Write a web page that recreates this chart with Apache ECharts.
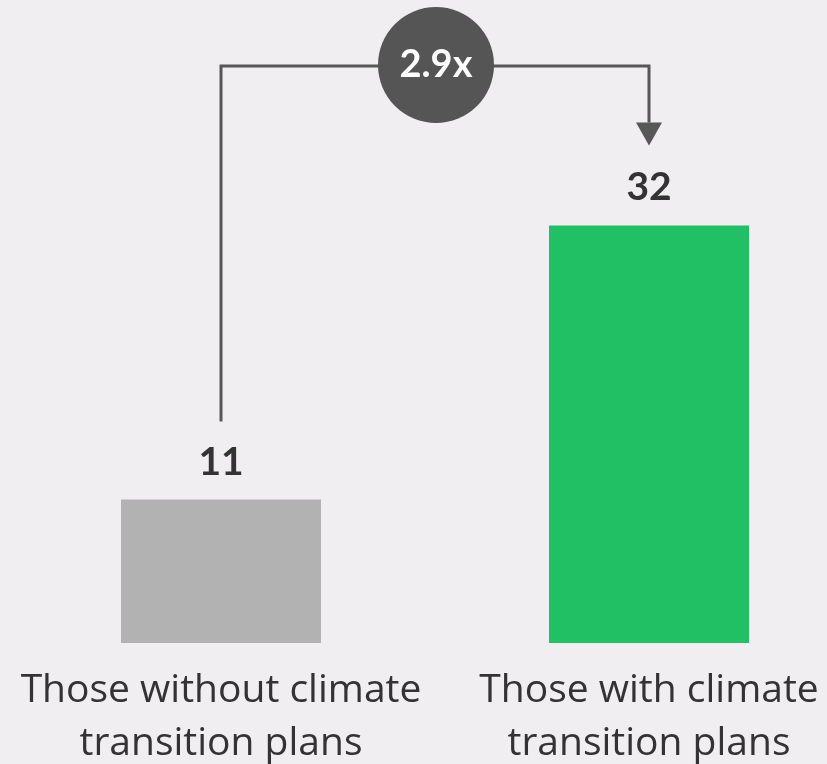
<!DOCTYPE html>
<html>
<head>
<meta charset="utf-8">
<script src="https://cdn.jsdelivr.net/npm/echarts@6/dist/echarts.min.js"></script>
<style>
html, body { margin: 0; padding: 0; background: #f0eef0; }
#main { width: 827px; height: 764px; }
</style>
</head>
<body>
<div id="main"></div>
<script>
var chart = echarts.init(document.getElementById('main'));

var categories = ['Those without climate\ntransition plans', 'Those with climate\ntransition plans'];
var values = [11, 32];
var barColors = ['#b2b2b2', '#22c064'];
var ratioText = (values[1] / values[0]).toFixed(1) + 'x';

var option = {
    backgroundColor: '#f0eef0',
    animation: false,
    grid: { left: 7, top: 121, width: 856, height: 522, outerBoundsMode: 'none', containLabel: false },
    xAxis: {
        type: 'category',
        data: categories,
        axisLine: { show: false },
        axisTick: { show: false },
        axisLabel: {
            interval: 0,
            fontFamily: 'Open Sans',
            fontSize: 39,
            lineHeight: 53,
            margin: 21,
            color: '#333333'
        }
    },
    yAxis: { type: 'value', min: 0, max: 40, show: false },
    series: [{
        type: 'bar',
        barWidth: 200,
        data: values.map(function (v, i) {
            return { value: v, itemStyle: { color: barColors[i] } };
        }),
        label: {
            show: true,
            position: 'top',
            distance: 18,
            fontFamily: 'Lato',
            fontWeight: 'bold',
            fontSize: 39,
            color: '#333333'
        }
    }]
};
chart.setOption(option);

// connector with ratio bubble
var p0 = chart.convertToPixel({ seriesIndex: 0 }, [0, values[0]]);
var p1 = chart.convertToPixel({ seriesIndex: 0 }, [1, values[1]]);
var topY = 66;
var startY = p0[1] - 78;
var tipY = p1[1] - 80;
var headH = 23, headW = 13;
var lineColor = '#575757';
var cx = (p0[0] + p1[0]) / 2 + 1;

chart.setOption({
    graphic: [
        {
            type: 'polyline',
            shape: { points: [[p0[0], startY], [p0[0], topY], [p1[0], topY], [p1[0], tipY - headH]] },
            style: { stroke: lineColor, lineWidth: 3, fill: null }
        },
        {
            type: 'polygon',
            shape: { points: [[p1[0] - headW, tipY - headH], [p1[0] + headW, tipY - headH], [p1[0], tipY]] },
            style: { fill: lineColor }
        },
        {
            type: 'circle',
            shape: { cx: cx, cy: topY - 1, r: 58 },
            style: { fill: '#555555' }
        },
        {
            type: 'text',
            x: cx,
            y: topY - 1,
            style: {
                text: ratioText,
                fill: '#ffffff',
                fontFamily: 'Lato',
                fontWeight: 'bold',
                fontSize: 38,
                align: 'center',
                verticalAlign: 'middle'
            }
        }
    ]
});
</script>
</body>
</html>
